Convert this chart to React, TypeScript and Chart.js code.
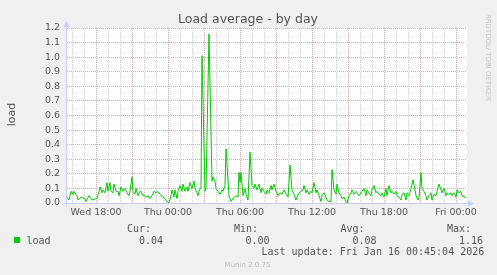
import { useEffect, useRef } from "react";
import { Chart, registerables } from "chart.js";

Chart.register(...registerables);

// ---- data ----
const chartTitle = "Load average - by day";
const yAxisTitle = "load";
const seriesName = "load";
// 5-minute sample slots counted from Wed 15:35 (minutes since Wed 00:00 = 935 + 5*slot)
const START_MINUTE = 935;
const SLOT_MINUTES = 5;
const AXIS_SLOTS = 400;
const sampleSlots = [
  0, 2, 4, 6, 7, 10, 11, 14, 18, 19,
  22, 25, 29, 30, 32, 33, 35, 36, 38, 40,
  41, 43, 44, 46, 47, 49, 51, 52, 54, 56,
  58, 60, 62, 63, 65, 66, 68, 69, 71, 73,
  74, 76, 78,
  80, 81, 83, 85, 87, 89, 90, 92, 94, 96,
  98, 100, 102, 104, 105, 107, 108, 110, 111, 113,
  115, 116, 118, 120, 121, 123, 125, 127, 128, 130,
  131, 132, 134, 135, 138, 139, 142, 145, 146, 148,
  149, 151, 153, 155, 156, 158, 159, 162, 164, 167,
  169, 171, 172, 173, 174, 176, 178, 179, 181, 183,
  185, 187, 188, 190, 192, 194, 195, 197, 199, 200,
  202, 204, 205, 207, 209, 211, 213, 215, 217, 219,
  221, 223, 225, 227, 229, 232, 234, 236, 237, 239,
  240, 242, 244, 245, 247, 249, 250, 252, 254, 255,
  257, 259, 260, 262, 264, 265, 267, 269, 270, 272,
  274, 275, 277, 279, 280, 282, 284, 285, 287, 289,
  290, 292, 294, 295, 297, 299, 300, 302, 304, 305,
  307, 309, 310, 312, 314, 315, 317, 319, 320, 322,
  324, 325, 327, 329, 330, 332, 334, 335, 337, 339,
  340, 342, 344, 346, 348, 349, 351, 352, 354, 355,
  357, 359, 360, 362, 364, 365, 367, 369, 370, 372,
  374, 375, 377, 379, 380, 382, 384, 385, 387, 389,
  390, 392, 394, 395, 397, 399,
];
const loadValues = [
  0.04, 0.02, 0.08, 0.06, 0.08, 0.05, 0.02, 0.04, 0.03, 0.01,
  0.05, 0.02, 0.03, 0.03, 0.08, 0.11, 0.07, 0.09, 0.07, 0.14,
  0.08, 0.14, 0.08, 0.07, 0.13, 0.08, 0.08, 0.05, 0.11, 0.08,
  0.10, 0.07, 0.05, 0.08, 0.18, 0.08, 0.06, 0.10, 0.05, 0.08,
  0.08, 0.05, 0.05,
  0.04, 0.05, 0.03, 0.05, 0.08, 0.07, 0.08, 0.07, 0.05, 0.04,
  0.03, 0.01, 0.00, 0.05, 0.09, 0.04, 0.09, 0.03, 0.08, 0.12,
  0.08, 0.13, 0.08, 0.11, 0.08, 0.14, 0.10, 0.15, 0.10, 0.07,
  0.05, 0.08, 0.11, 1.01, 0.08, 0.10, 1.16, 0.15, 0.18, 0.15,
  0.10, 0.08, 0.06, 0.09, 0.08, 0.12, 0.37, 0.05, 0.01, 0.04,
  0.05, 0.04, 0.21, 0.14, 0.21, 0.05, 0.10, 0.06, 0.02, 0.35,
  0.12, 0.10, 0.13, 0.09, 0.13, 0.07, 0.10, 0.08, 0.06, 0.09,
  0.07, 0.12, 0.09, 0.13, 0.08, 0.05, 0.07, 0.06, 0.09, 0.06,
  0.04, 0.26, 0.09, 0.06, 0.02, 0.07, 0.08, 0.09, 0.12, 0.07,
  0.09, 0.06, 0.08, 0.07, 0.14, 0.07, 0.09, 0.05, 0.01, 0.05,
  0.07, 0.04, 0.02, 0.01, 0.01, 0.23, 0.09, 0.06, 0.13, 0.07,
  0.05, 0.03, 0.04, 0.01, 0.00, 0.05, 0.07, 0.09, 0.06, 0.08,
  0.07, 0.05, 0.07, 0.08, 0.10, 0.05, 0.09, 0.07, 0.05, 0.09,
  0.12, 0.07, 0.08, 0.06, 0.05, 0.07, 0.04, 0.10, 0.05, 0.12,
  0.07, 0.08, 0.06, 0.08, 0.05, 0.04, 0.02, 0.06, 0.07, 0.02,
  0.07, 0.05, 0.10, 0.16, 0.09, 0.05, 0.02, 0.04, 0.21, 0.10,
  0.08, 0.05, 0.02, 0.05, 0.07, 0.02, 0.06, 0.05, 0.08, 0.13,
  0.09, 0.07, 0.10, 0.05, 0.07, 0.06, 0.07, 0.05, 0.07, 0.04,
  0.09, 0.07, 0.08, 0.05, 0.04, 0.04,
];
const xTickMinutes = [1080, 1440, 1800, 2160, 2520, 2880];
const xTickLabels = ["Wed 18:00", "Thu 00:00", "Thu 06:00", "Thu 12:00", "Thu 18:00", "Fri 00:00"];
const yTickValues = [0, 0.1, 0.2, 0.3, 0.4, 0.5, 0.6, 0.7, 0.8, 0.9, 1.0, 1.1, 1.2];
const legendHeaders = ["Cur:", "Min:", "Avg:", "Max:"];
const legendValues = ["0.04", "0.00", "0.08", "1.16"];
const lastUpdateText = "Last update: Fri Jan 16 00:45:04 2026";
const watermarkText = "RRDTOOL/ TOBI OETIKER";
const versionText = "Munin 2.0.75";

// ---- styles ----
const W = 497;
const H = 275;
const BG = "#f0f0f0";
const TEXT = "#555555";
const LINE = "#00cc00";
const MAJOR_GRID = "#eaa6a6";
const MINOR_GRID = "#d2d2d2";
const AXIS = "#c8ccff";
const SANS = '"DejaVu Sans", sans-serif';
const MONO = '"DejaVu Sans Mono", monospace';

const gridMinutes: number[] = [];
for (let m = 960; m <= START_MINUTE + AXIS_SLOTS * SLOT_MINUTES; m += 60) gridMinutes.push(m);

const decorPlugin = {
  id: "muninDecor",
  beforeDraw(chart: any) {
    const { ctx, chartArea: a } = chart;
    ctx.save();
    ctx.fillStyle = BG;
    ctx.fillRect(0, 0, W, H);
    ctx.fillStyle = "#ffffff";
    ctx.fillRect(a.left, a.top, a.right - a.left, a.bottom - a.top);
    ctx.restore();
  },
  beforeDatasetsDraw(chart: any) {
    const { ctx, chartArea: a } = chart;
    const ax = Math.round(a.left) - 0.5;
    const ay = Math.round(a.bottom) + 0.5;
    ctx.save();
    ctx.strokeStyle = AXIS;
    ctx.lineWidth = 1;
    ctx.beginPath();
    ctx.moveTo(ax, ay + 3);
    ctx.lineTo(ax, a.top - 2);
    ctx.moveTo(ax - 3, ay);
    ctx.lineTo(a.right + 2, ay);
    ctx.stroke();
    ctx.fillStyle = AXIS;
    ctx.beginPath();
    ctx.moveTo(ax - 3, a.top - 1);
    ctx.lineTo(ax, a.top - 7);
    ctx.lineTo(ax + 3, a.top - 1);
    ctx.closePath();
    ctx.fill();
    ctx.beginPath();
    ctx.moveTo(a.right + 1, ay - 3);
    ctx.lineTo(a.right + 7, ay);
    ctx.lineTo(a.right + 1, ay + 3);
    ctx.closePath();
    ctx.fill();
    ctx.restore();
  },
  afterDraw(chart: any) {
    const { ctx } = chart;
    ctx.save();
    // title
    ctx.fillStyle = TEXT;
    ctx.font = `12.5px ${SANS}`;
    ctx.textAlign = "center";
    ctx.textBaseline = "alphabetic";
    ctx.fillText(chartTitle, 248, 23);
    // y axis title
    ctx.save();
    ctx.translate(15, 114.5);
    ctx.rotate(-Math.PI / 2);
    ctx.font = `11px ${SANS}`;
    ctx.textAlign = "center";
    ctx.fillText(yAxisTitle, 0, 0);
    ctx.restore();
    // watermark
    ctx.save();
    ctx.fillStyle = "#c4c4c4";
    let fs = 7;
    ctx.font = `${fs}px ${SANS}`;
    const wm = ctx.measureText(watermarkText).width;
    fs = (fs * 87) / wm;
    ctx.font = `${fs}px ${SANS}`;
    ctx.translate(486, 14);
    ctx.rotate(Math.PI / 2);
    ctx.textAlign = "left";
    ctx.fillText(watermarkText, 0, 0);
    ctx.restore();
    // legend
    ctx.font = `10px ${MONO}`;
    ctx.textAlign = "left";
    ctx.fillStyle = TEXT;
    const headerX = [127, 234, 340.5, 447];
    const valueX = [139, 245.5, 352.5, 459];
    legendHeaders.forEach((h, i) => ctx.fillText(h, headerX[i], 231.5));
    legendValues.forEach((v, i) => ctx.fillText(v, valueX[i], 243.5));
    ctx.fillText(seriesName, 26.5, 243.5);
    ctx.fillText(lastUpdateText, 261.5, 255.3);
    ctx.fillStyle = LINE;
    ctx.fillRect(14, 237, 6, 6);
    // version
    ctx.fillStyle = "#bcbcbc";
    ctx.font = `7px ${SANS}`;
    ctx.textAlign = "center";
    ctx.fillText(versionText, 247.5, 267);
    ctx.restore();
  },
};

export default function App() {
  const canvasRef = useRef<HTMLCanvasElement | null>(null);

  useEffect(() => {
    const canvas = canvasRef.current;
    if (!canvas) return;
    const n = Math.min(sampleSlots.length, loadValues.length);
    const points = [] as { x: number; y: number }[];
    for (let i = 0; i < n; i++) {
      points.push({ x: START_MINUTE + sampleSlots[i] * SLOT_MINUTES, y: loadValues[i] });
    }
    const chart = new Chart(canvas, {
      type: "line",
      data: {
        datasets: [
          {
            label: seriesName,
            data: points,
            borderColor: LINE,
            borderWidth: 1,
            pointRadius: 0,
            tension: 0,
            fill: false,
          },
        ],
      },
      options: {
        responsive: false,
        animation: false,
        events: [],
        layout: { padding: { top: 28, right: 30, left: 0, bottom: 0 } },
        plugins: {
          legend: { display: false },
          title: { display: false },
          tooltip: { enabled: false },
        },
        scales: {
          x: {
            type: "linear",
            min: START_MINUTE,
            max: START_MINUTE + AXIS_SLOTS * SLOT_MINUTES,
            afterBuildTicks: (scale: any) => {
              scale.ticks = gridMinutes.map((v) => ({ value: v }));
            },
            afterFit: (scale: any) => {
              scale.height = 72;
            },
            ticks: {
              autoSkip: false,
              maxRotation: 0,
              minRotation: 0,
              padding: 4,
              color: TEXT,
              font: { family: SANS, size: 9.5 },
              callback: (v: any) => {
                const idx = xTickMinutes.indexOf(Number(v));
                return idx >= 0 ? xTickLabels[idx] : "";
              },
            },
            grid: {
              drawTicks: false,
              lineWidth: 1,
              color: (c: any) =>
                c.tick && c.tick.value % 180 === 0 ? MAJOR_GRID : MINOR_GRID,
            },
            border: { display: false, dash: [1, 1] },
          },
          y: {
            type: "linear",
            min: 0,
            max: 1.2,
            afterBuildTicks: (scale: any) => {
              scale.ticks = yTickValues.map((v) => ({ value: v }));
            },
            afterFit: (scale: any) => {
              scale.width = 67;
            },
            ticks: {
              padding: 7,
              color: TEXT,
              font: { family: SANS, size: 9.5 },
              callback: (v: any) => Number(v).toFixed(1),
            },
            grid: {
              drawTicks: false,
              lineWidth: 1,
              color: MAJOR_GRID,
            },
            border: { display: false, dash: [1, 1] },
          },
        },
      } as any,
      plugins: [decorPlugin],
    });
    return () => chart.destroy();
  }, []);

  return (
    <div style={{ position: "fixed", left: 0, top: 0, width: W, height: H, background: BG }}>
      <canvas ref={canvasRef} width={W} height={H} style={{ display: "block" }} />
    </div>
  );
}
